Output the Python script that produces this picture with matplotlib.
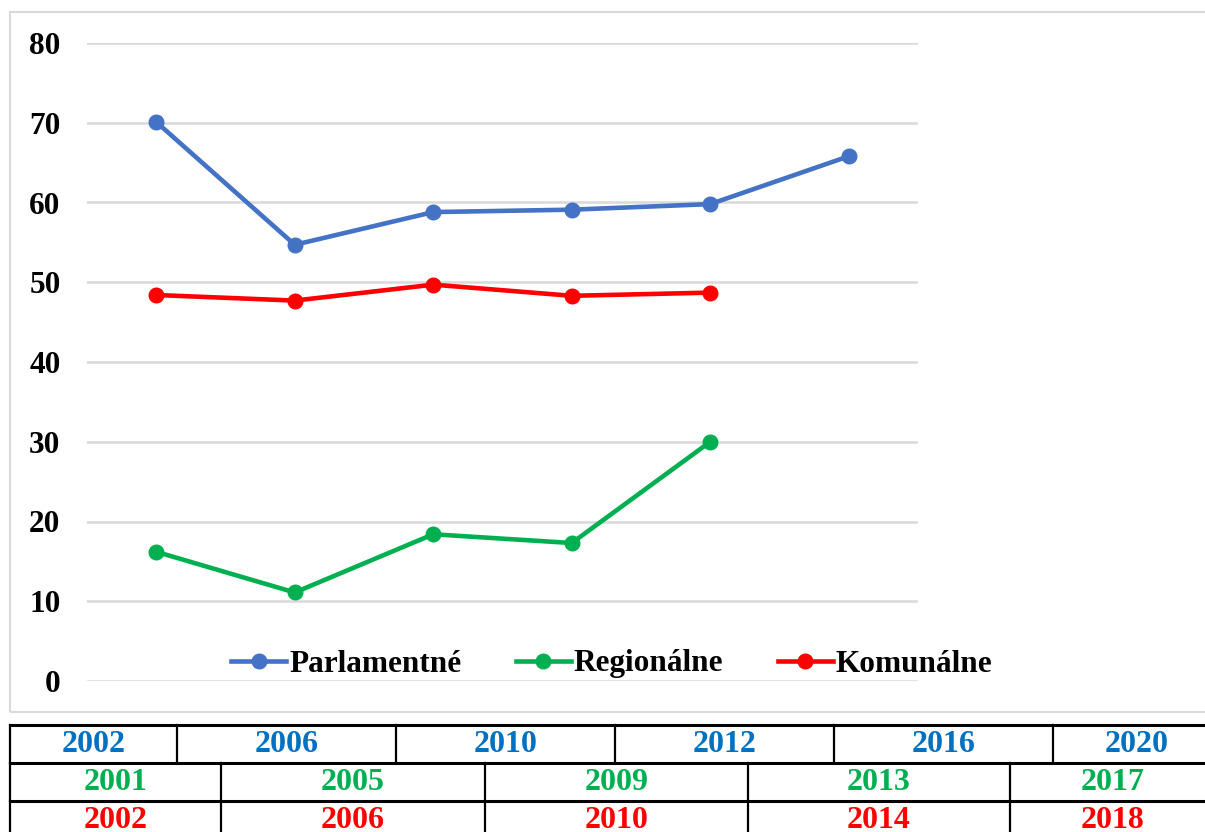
import numpy as np
import matplotlib
matplotlib.use("Agg")
import matplotlib.pyplot as plt
from matplotlib.lines import Line2D
from matplotlib.patches import Rectangle

plt.rcParams['font.family'] = ['Liberation Serif', 'DejaVu Serif']
plt.rcParams['font.weight'] = 'bold'

# data
parlamentne = [70.1, 54.7, 58.8, 59.1, 59.8, 65.8]
regionalne = [16.2, 11.1, 18.4, 17.3, 30.0]
komunalne = [48.4, 47.7, 49.7, 48.3, 48.7]

years_parl = ['2002', '2006', '2010', '2012', '2016', '2020']
years_reg = ['2001', '2005', '2009', '2013', '2017']
years_kom = ['2002', '2006', '2010', '2014', '2018']

c_blue = '#4472C4'
c_green = '#00B050'
c_red = '#FF0000'

W, H = 1205, 832
fig = plt.figure(figsize=(W / 100, H / 100), dpi=100)

def fx(px):
    return px / W

def fy(py):
    return 1 - py / H

# chart area frame
fig.patches.append(Rectangle((fx(10), fy(712)), fx(1230) - fx(10), fy(12) - fy(712),
                             transform=fig.transFigure, fill=False,
                             edgecolor='#D9D9D9', lw=1.5))

ax = fig.add_axes([fx(87), fy(681), fx(918) - fx(87), fy(43) - fy(681)])
x = np.arange(len(years_parl))
ax.plot(x, parlamentne, color=c_blue, lw=3.3, marker='o', ms=10.5, label='Parlamentné')
ax.plot(x[:len(regionalne)], regionalne, color=c_green, lw=3.3, marker='o', ms=10.5, label='Regionálne')
ax.plot(x[:len(komunalne)], komunalne, color=c_red, lw=3.3, marker='o', ms=10.5, label='Komunálne')

ax.set_xlim(-0.5, len(years_parl) - 0.5)
ax.set_ylim(0, 80)
ax.set_yticks(np.arange(0, 81, 10))
ax.set_xticks([])
ax.grid(axis='y', color='#D9D9D9', lw=1.8)
ax.set_axisbelow(True)
for s in ax.spines.values():
    s.set_visible(False)
ax.tick_params(axis='y', length=0, pad=19, labelsize=22.5)
for lab in ax.get_yticklabels():
    lab.set_fontweight('bold')

fig.legend(loc='center', bbox_to_anchor=(fx(612), fy(664)), ncol=3, frameon=False,
           handlelength=1.75, handletextpad=0.1, columnspacing=1.75,
           numpoints=1, borderaxespad=0, prop={'weight': 'bold', 'size': 22.5})

# table below the chart
row_tops = [725, 763, 801, 840]
row_edges = [
    [10, 177, 396, 615, 834, 1053, 1221],
    [10, 221, 485, 748, 1010, 1216],
    [10, 221, 485, 748, 1010, 1216],
]
row_labels = [years_parl, years_reg, years_kom]
row_colors = ['#0070C0', c_green, c_red]

for i, (edges, labels, col) in enumerate(zip(row_edges, row_labels, row_colors)):
    top, bot = row_tops[i], row_tops[i + 1]
    fig.add_artist(Line2D([fx(10), fx(1300)], [fy(top), fy(top)], color='black', lw=2.2,
                          transform=fig.transFigure))
    for e in edges[:-1]:
        fig.add_artist(Line2D([fx(e), fx(e)], [fy(top), fy(bot)], color='black', lw=1.6,
                              transform=fig.transFigure))
    for j, lab in enumerate(labels):
        cx = (edges[j] + edges[j + 1]) / 2
        fig.text(fx(cx), fy(top + 20), lab, color=col, fontsize=23,
                 fontweight='bold', ha='center', va='center')

fig.savefig('out.png', dpi=100)
